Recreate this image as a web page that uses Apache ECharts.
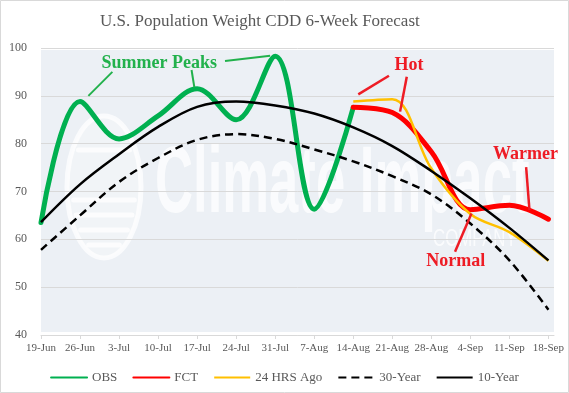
<!DOCTYPE html>
<html><head><meta charset="utf-8">
<script src="https://cdn.jsdelivr.net/npm/echarts@6/dist/echarts.min.js"></script>
<style>html,body{margin:0;padding:0;background:#fff}#c{width:569px;height:393px}</style>
</head><body><div id="c"></div>
<script>
// ---- data (x = days since 19-Jun) ----
const tickLabels = ['19-Jun','26-Jun','3-Jul','10-Jul','17-Jul','24-Jul','31-Jul','7-Aug','14-Aug','21-Aug','28-Aug','4-Sep','11-Sep','18-Sep'];
const tickDays = [0,7,14,21,28,35,42,49,56,63,70,77,84,91];
const obsDays = [0,7,14,21,28,35,42,49,56];
const obsValues = [63.5, 88.8, 81.0, 85.8, 91.5, 85.0, 98.3, 66.3, 87.6];
const fctDays = [56,63,70,77,84,91];
const fctValues = [87.6, 86.5, 78.3, 66.2, 67.1, 64.2];
const hrs24Values = [88.8, 89.3, 74.8, 65.3, 61.5, 55.5];
const normDays = [0,7,14,21,28,35,42,49,56,63,70,77,84,91];
const norm30Values = [57.8, 65.0, 72.0, 77.0, 80.8, 82.0, 81.0, 78.8, 76.3, 73.2, 69.4, 63.3, 55.6, 45.3];
const norm10Values = [63.6, 71.5, 77.8, 83.5, 87.7, 88.8, 88.0, 86.3, 83.4, 79.5, 74.3, 68.6, 62.4, 55.6];
// annotations (data coordinates: [day, value])
const greenPointers = [[[8.5,90.0],[12.8,95.0]], [[27.5,91.8],[27.0,95.4]], [[33.0,97.3],[41.1,98.4]]];
const redPointers = [[[56.9,90.3],[62.4,94.2]], [[65.6,94.0],[64.4,86.7]], [[87.0,75.1],[87.6,66.1]], [[74.25,57.4],[77.2,65.4]]];
const notes = [
  {text:'Summer Peaks', at:[21.2,96.8], color:'#22B14C'},
  {text:'Hot', at:[66.0,96.45], color:'#EE1C25'},
  {text:'Warmer', at:[86.9,77.8], color:'#EE1C25'},
  {text:'Normal', at:[74.4,55.3], color:'#EE1C25'}
];

const zip = (xs, ys) => xs.map((x,i) => [x, ys[i]]);
const SERIF = '"Liberation Serif","Times New Roman",serif';
const GREY = '#595959';
const WM = 'rgba(255,255,255,0.75)';

const baseGraphic = [
  {id:'border', type:'rect', shape:{x:0.5,y:0.5,width:568,height:392}, style:{fill:null, stroke:'#D9D9D9', lineWidth:1}, z:-20, silent:true},
  {id:'plotbg', type:'rect', shape:{x:41,y:50,width:513,height:282}, style:{fill:'#ECF0F5'}, z:-10, silent:true},
  {id:'globe', type:'ellipse', shape:{cx:104,cy:187,rx:37,ry:71}, style:{fill:'rgba(255,255,255,0.25)', stroke:WM, lineWidth:5}, z:-9, silent:true},
  {id:'wm1', type:'text', x:155, y:186, scaleX:0.56, style:{text:'Climate Impact', font:'bold 94px "Liberation Sans",Arial,sans-serif', fill:WM, align:'left', verticalAlign:'middle'}, z:-9, silent:true},
  {id:'wm2', type:'text', x:433, y:239, scaleX:0.7, style:{text:'COMPANY', font:'normal 24px "Liberation Sans",Arial,sans-serif', fill:WM, align:'left', verticalAlign:'middle'}, z:-9, silent:true}
];
// globe stripes
[150, 200, 215, 230, 245].forEach((yy, i) => {
  const dy = yy - 187, hw = 37 * Math.sqrt(Math.max(0, 1 - (dy/71)*(dy/71))) - 6;
  baseGraphic.push({id:'st'+i, type:'line', shape:{x1:104-hw, y1:yy, x2:104+hw, y2:yy}, style:{stroke:WM, lineWidth:5, lineCap:'round'}, z:-9, silent:true});
});

const chart = echarts.init(document.getElementById('c'), null, {renderer:'canvas'});
const option = {
  animation:false,
  backgroundColor:'#ffffff',
  title:{text:'U.S. Population Weight CDD 6-Week Forecast', left:100, top:13, padding:0,
    textStyle:{fontFamily:SERIF, fontSize:17, fontWeight:'normal', color:GREY}},
  grid:{left:41, right:15, top:48, bottom:58, containLabel:false},
  xAxis:{type:'value', min:0, max:92, interval:7,
    axisLine:{show:true, lineStyle:{color:'#D9D9D9', width:1}},
    axisTick:{show:true, length:4, lineStyle:{color:'#D9D9D9'}, customValues:tickDays},
    axisLabel:{color:GREY, fontFamily:SERIF, fontSize:11, margin:8, customValues:tickDays,
      formatter:v => tickLabels[tickDays.indexOf(Math.round(v))] || ''},
    splitLine:{show:false}},
  yAxis:{type:'value', min:40, max:100, interval:10,
    axisLine:{show:false}, axisTick:{show:false},
    axisLabel:{color:GREY, fontFamily:SERIF, fontSize:12, margin:14},
    splitLine:{show:true, lineStyle:{color:'#D9D9D9', width:1}}},
  legend:{top:366, left:'center', itemWidth:36, itemHeight:12, itemGap:15,
    itemStyle:{opacity:0},
    textStyle:{fontFamily:SERIF, fontSize:13, color:GREY},
    data:['OBS','FCT','24 HRS Ago','30-Year','10-Year']},
  graphic: baseGraphic,
  series:[
    {name:'OBS', type:'line', data:zip(obsDays, obsValues), smooth:0.35, symbol:'none',
      lineStyle:{color:'#00B050', width:5, cap:'round'}, itemStyle:{color:'#00B050'}},
    {name:'FCT', type:'line', data:zip(fctDays, fctValues), smooth:0.35, symbol:'none',
      lineStyle:{color:'#FF0000', width:5, cap:'round'}, itemStyle:{color:'#FF0000'}},
    {name:'24 HRS Ago', type:'line', data:zip(fctDays, hrs24Values), smooth:0.35, symbol:'none',
      lineStyle:{color:'#FFC000', width:2.5}, itemStyle:{color:'#FFC000'}},
    {name:'30-Year', type:'line', data:zip(normDays, norm30Values), smooth:0.35, symbol:'none',
      lineStyle:{color:'#000000', width:2.5, type:[8,5]}, itemStyle:{color:'#000000'}},
    {name:'10-Year', type:'line', data:zip(normDays, norm10Values), smooth:0.35, symbol:'none',
      lineStyle:{color:'#000000', width:2.5}, itemStyle:{color:'#000000'}}
  ]
};
chart.setOption(option);

const extra = [];
const px = p => chart.convertToPixel({gridIndex:0}, p);
greenPointers.forEach((p,i) => { const a = px(p[0]), b = px(p[1]);
  extra.push({id:'gp'+i, type:'line', shape:{x1:a[0],y1:a[1],x2:b[0],y2:b[1]}, style:{stroke:'#22B14C', lineWidth:2}, z:100, silent:true}); });
redPointers.forEach((p,i) => { const a = px(p[0]), b = px(p[1]);
  extra.push({id:'rp'+i, type:'line', shape:{x1:a[0],y1:a[1],x2:b[0],y2:b[1]}, style:{stroke:'#EE1C25', lineWidth:2.5}, z:100, silent:true}); });
notes.forEach((n,i) => { const a = px(n.at);
  extra.push({id:'nt'+i, type:'text', x:a[0], y:a[1], style:{text:n.text, font:'bold 18px "Liberation Serif","Times New Roman",serif', fill:n.color, align:'center', verticalAlign:'middle'}, z:100, silent:true}); });
chart.setOption({graphic: baseGraphic.concat(extra)});
</script></body></html>
